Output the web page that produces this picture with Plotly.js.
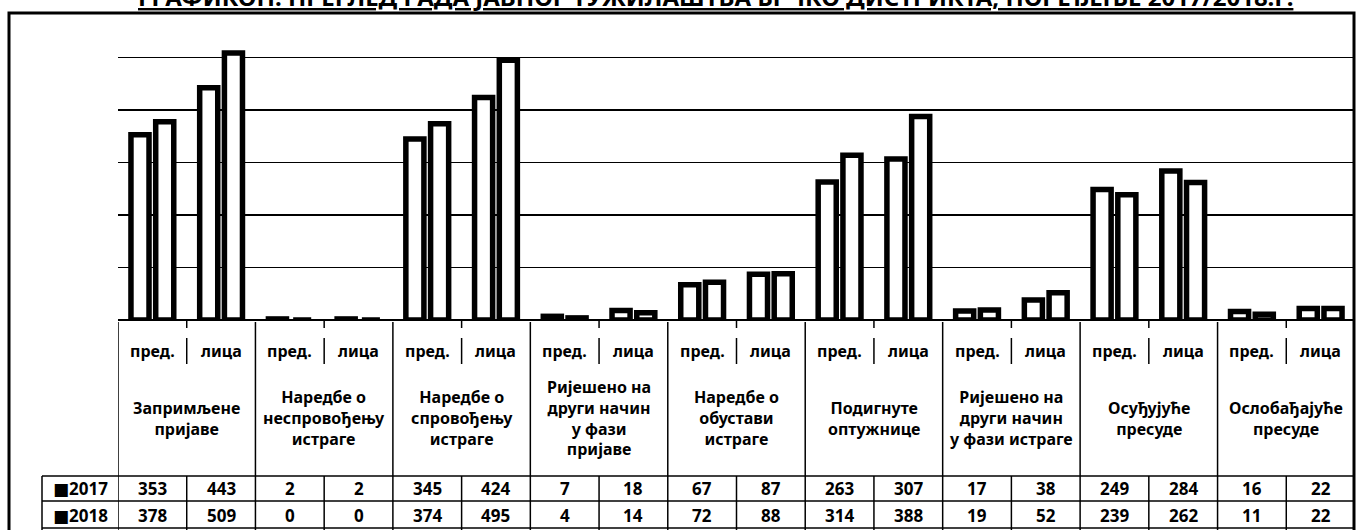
<!DOCTYPE html>
<html>
<head>
<meta charset="utf-8">
<script src="https://cdn.plot.ly/plotly-3.0.1.min.js"></script>
<style>
  html, body { margin: 0; padding: 0; background: #fff; overflow: hidden; }
  #chart { width: 1361px; height: 530px; }
</style>
</head>
<body>
<div id="chart"></div>
<script>
// ---- data ----
const titleText = 'ГРАФИКОН: ПРЕГЛЕД РАДА ЈАВНОГ ТУЖИЛАШТВА БРЧКО ДИСТРИКТА, ПОРЕЂЕЊЕ 2017/2018.Г.';
const groups = [
  'Запримљене<br>пријаве',
  'Наредбе о<br>неспровођењу<br>истраге',
  'Наредбе о<br>спровођењу<br>истраге',
  'Ријешено на<br>други начин<br>у фази<br>пријаве',
  'Наредбе о<br>обустави<br>истраге',
  'Подигнуте<br>оптужнице',
  'Ријешено на<br>други начин<br>у фази истраге',
  'Осуђујуће<br>пресуде',
  'Ослобађајуће<br>пресуде'
];
const subLabels = ['пред.', 'лица'];
const years = ['2017', '2018'];
const values2017 = [353, 443, 2, 2, 345, 424, 7, 18, 67, 87, 263, 307, 17, 38, 249, 284, 16, 22];
const values2018 = [378, 509, 0, 0, 374, 495, 4, 14, 72, 88, 314, 388, 19, 52, 239, 262, 11, 22];

// ---- layout helpers ----
const W = 1361, H = 530;
const mL = 118, mR = 6, mT = 42, mB = 210;
const plotH = H - mT - mB;           // 278
const plotW = W - mL - mR;           // 1237
const py = p => (H - mB - p) / plotH; // pixel row -> paper y
const px = p => (p - mL) / plotW;     // pixel col -> paper x

const FONT = 'Noto Sans, DejaVu Sans, sans-serif';
const xs = values2017.map((_, i) => i + 0.5);

const barStyle = { color: '#ffffff', line: { color: '#000000', width: 5.5 } };
const traces = [
  { type: 'bar', name: years[0], x: xs, y: values2017, marker: barStyle, hoverinfo: 'y' },
  { type: 'bar', name: years[1], x: xs, y: values2018, marker: barStyle, hoverinfo: 'y' }
];

const shapes = [];
const annotations = [];
const blk = '#000000';

// outer frame
shapes.push({ type: 'rect', xref: 'paper', yref: 'paper',
  x0: px(9), x1: px(1354), y0: py(560), y1: py(13),
  line: { color: blk, width: 3 } });

// group boundaries in header area
for (let g = 0; g <= groups.length; g++) {
  shapes.push({ type: 'line', xref: 'x', yref: 'paper', x0: 2 * g, x1: 2 * g,
    y0: py(322), y1: py(476), line: { color: blk, width: 1.5 } });
}
// separators between пред. / лица
for (let g = 0; g < groups.length; g++) {
  shapes.push({ type: 'line', xref: 'x', yref: 'paper', x0: 2 * g + 1, x1: 2 * g + 1,
    y0: py(321), y1: py(328), line: { color: blk, width: 1.5 } });
  shapes.push({ type: 'line', xref: 'x', yref: 'paper', x0: 2 * g + 1, x1: 2 * g + 1,
    y0: py(338), y1: py(364), line: { color: blk, width: 1.5 } });
}
// table horizontal lines
[476, 501, 528].forEach(p => {
  shapes.push({ type: 'line', xref: 'paper', yref: 'paper', x0: px(42), x1: 1,
    y0: py(p), y1: py(p), line: { color: blk, width: 1.5 } });
});
// table vertical lines
shapes.push({ type: 'line', xref: 'paper', yref: 'paper', x0: px(42), x1: px(42),
  y0: py(476), y1: py(540), line: { color: blk, width: 1.5 } });
for (let i = 0; i <= values2017.length; i++) {
  shapes.push({ type: 'line', xref: 'x', yref: 'paper', x0: i, x1: i,
    y0: py(476), y1: py(540), line: { color: blk, width: 1.5 } });
}

// title (top clipped like the scan)
annotations.push({ xref: 'paper', yref: 'paper', x: px(715), y: py(15),
  xanchor: 'center', yanchor: 'bottom', showarrow: false,
  text: '<b><u>' + titleText + '</u></b>',
  font: { family: FONT, size: 24, color: blk } });

// sub labels
xs.forEach((x, i) => {
  annotations.push({ xref: 'x', yref: 'paper', x: x, y: py(351), xanchor: 'center', yanchor: 'middle',
    showarrow: false, text: '<b>' + subLabels[i % 2] + '</b>', font: { family: FONT, size: 16, color: blk } });
});
// group labels
groups.forEach((g, k) => {
  annotations.push({ xref: 'x', yref: 'paper', x: 2 * k + 1, y: py(418), xanchor: 'center', yanchor: 'middle',
    showarrow: false, align: 'center', text: '<b>' + g + '</b>',
    font: { family: FONT, size: 16, color: blk } });
});
// table rows
[values2017, values2018].forEach((vals, r) => {
  const rowY = py(r === 0 ? 488 : 515);
  annotations.push({ xref: 'paper', yref: 'paper', x: px(80), y: rowY, xanchor: 'center', yanchor: 'middle',
    showarrow: false, text: '<b>■' + years[r] + '</b>', font: { family: FONT, size: 17, color: blk } });
  vals.forEach((v, i) => {
    annotations.push({ xref: 'x', yref: 'paper', x: xs[i], y: rowY, xanchor: 'center', yanchor: 'middle',
      showarrow: false, text: '<b>' + v + '</b>', font: { family: FONT, size: 17, color: blk } });
  });
});

const layout = {
  width: W, height: H,
  margin: { l: mL, r: mR, t: mT, b: mB, pad: 0 },
  paper_bgcolor: '#ffffff', plot_bgcolor: '#ffffff',
  showlegend: false,
  barmode: 'group', bargap: 0.28, bargroupgap: 0.27,
  xaxis: { range: [0, 18], showgrid: false, zeroline: false, showticklabels: false, ticks: '', fixedrange: true },
  yaxis: { range: [0, 530], dtick: 100, showgrid: true, gridcolor: blk, gridwidth: 1.5,
    zeroline: true, zerolinecolor: blk, zerolinewidth: 1.5, showticklabels: false, ticks: '', fixedrange: true },
  shapes: shapes,
  annotations: annotations,
  font: { family: FONT, color: blk }
};

Plotly.newPlot('chart', traces, layout, { displayModeBar: false, staticPlot: true });
</script>
</body>
</html>
